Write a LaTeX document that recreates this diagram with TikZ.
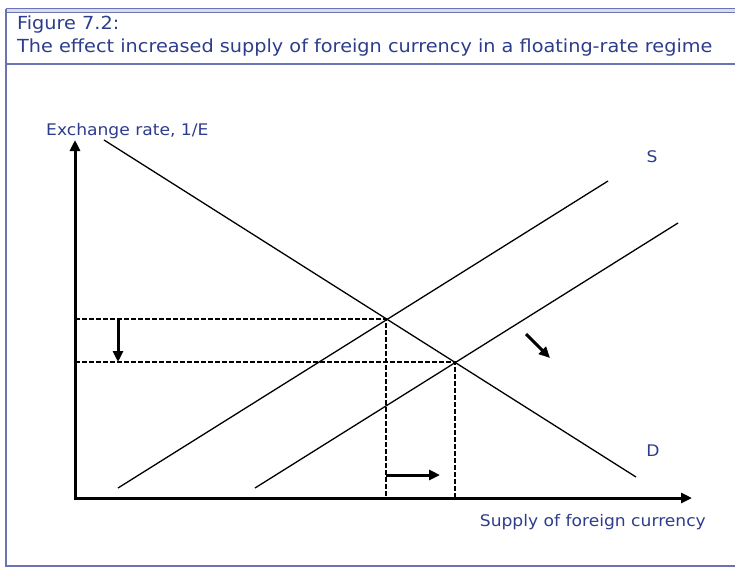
\documentclass[tikz,border=0pt]{standalone}
\usepackage{fontspec}
\setmainfont{DejaVu Sans}[FakeStretch=1.07]
\usetikzlibrary{calc,arrows.meta,positioning}
\definecolor{navy}{HTML}{2E3C8C}
\definecolor{rule}{HTML}{6A74B4}
\begin{document}
\begin{tikzpicture}[x=1pt,y=-1pt,
  lbl/.style={text=navy,font=\fontsize{16}{19}\selectfont,inner sep=0pt},
  head/.style={lbl,font=\fontsize{18}{21}\selectfont,anchor=base west},
  axis/.style={-{Triangle[length=11pt,width=10pt]},line width=3pt},
  curve/.style={line width=1.3pt},
  guide/.style={line width=2pt,dash pattern=on 4.5pt off 2.5pt},
  shiftarrow/.style={-{Triangle[length=11pt,width=10pt]},line width=3pt}]
\useasboundingbox (0,0) rectangle (735,568);
% frame and heading
\fill[rule!25] (6,8.5) rectangle (735,12.5);
\draw[rule,line width=1.2pt] (6,8.5)--(735,8.5) (6,12.5)--(735,12.5) (6,64)--(735,64);
\draw[rule,line width=1.5pt] (6,8.5)--(6,566)--(735,566);
\node[head] (fig) at (17,29){Figure 7.2:};
\node[head] (title) at (17,52){The effect increased supply of foreign currency in a floating-rate regime};
% axes
\coordinate (O) at (75,498);
\coordinate (ytop) at (75,140);
\coordinate (xend) at (692,498);
\draw[axis] (75,500)--(ytop);
\draw[axis] (O)--(xend);
\node[lbl,anchor=base west] (ylab) at (46,135){Exchange rate, 1/E};
\node[lbl,anchor=base east] (xlab) at (706,526){Supply of foreign currency};
% demand and supply
\coordinate (d1) at (104,140); \coordinate (d2) at (636,477);
\coordinate (s1) at (118,488); \coordinate (s2) at (608,181);
\coordinate (t1) at (255,488); \coordinate (t2) at (678,223);
\draw[curve] (d1)--(d2);
\draw[curve] (s1)--(s2);
\draw[curve] (t1)--(t2);
\node[lbl] (Slab) at (652,157){S};
\node[lbl] (Dlab) at (653,451){D};
% equilibria
\coordinate (E1) at (386,319);
\coordinate (E2) at (455,362);
\draw[guide] (O|-E1)--(E1)--(E1|-O);
\draw[guide] (O|-E2)--(E2)--(E2|-O);
% shifts
\coordinate (p1) at (118,0);
\draw[shiftarrow] (p1|-E1)--(p1|-E2);
\coordinate (q1) at (0,475);
\draw[shiftarrow] (E1|-q1)--($(E2|-q1)+(-15,0)$);
\coordinate (r1) at (526,334); \coordinate (r2) at (550,358);
\draw[shiftarrow] (r1)--(r2);
\end{tikzpicture}
\end{document}
